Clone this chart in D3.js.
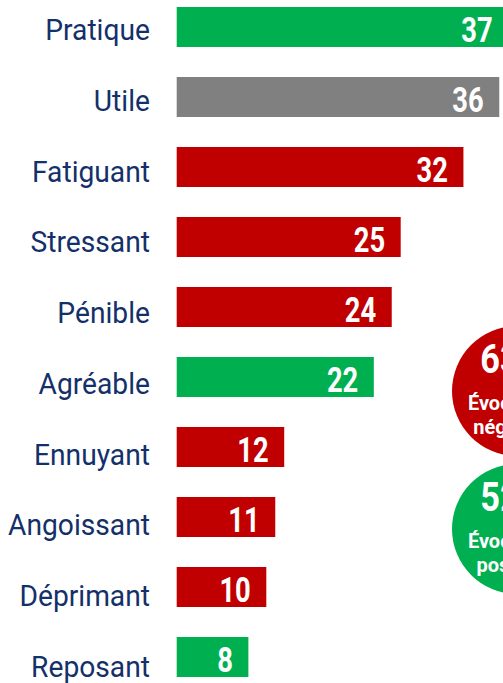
<!DOCTYPE html>
<html><head><meta charset="utf-8">
<script src="https://cdn.jsdelivr.net/npm/d3@7"></script>
<style>html,body{margin:0;padding:0;background:#fff;overflow:hidden}</style>
</head><body><svg id="c" width="503" height="683"></svg>
<script>
const categories = ["Pratique","Utile","Fatiguant","Stressant","Pénible","Agréable","Ennuyant","Angoissant","Déprimant","Reposant"];
const values = [37,36,32,25,24,22,12,11,10,8];
const tones = ["pos","neu","neg","neg","neg","pos","neg","neg","neg","pos"];
const summaryValues = ["63 %","52 %"];
const summaryLine1 = ["Évocations","Évocations"];
const summaryLine2 = ["négatives","positives"];
const summaryTones = ["neg","pos"];
const colors = {pos:"#00B050", neg:"#C00000", neu:"#808080"};

const svg = d3.select("#c");
const x = d3.scaleLinear().domain([0,40]).range([176.7, 176.7+40*8.96]);
const y = d3.scaleBand().domain(categories).range([-8, 692]).paddingInner(3/7).paddingOuter(3/14);
const yLabel = d3.scalePoint().domain(categories).range([40, 677]);
const data = categories.map((c,i)=>({c, v:values[i], t:tones[i]}));

svg.selectAll("rect.bar").data(data).join("rect").attr("class","bar")
  .attr("x", x(0)).attr("y", d=>y(d.c))
  .attr("width", d=>x(d.v)-x(0)).attr("height", y.bandwidth())
  .attr("fill", d=>colors[d.t]);

svg.selectAll("g.lab").data(data).join("g").attr("class","lab")
  .attr("transform", d=>`translate(150,${yLabel(d.c)})`)
  .append("text").attr("text-anchor","end").attr("transform","scale(0.94,1)")
  .attr("font-family","Roboto").attr("font-size",30).attr("fill","#14306a")
  .text(d=>d.c);

svg.selectAll("g.val").data(data).join("g").attr("class","val")
  .attr("transform", d=>`translate(${x(d.v)-15.5},${y(d.c)+y.bandwidth()/2+14.5})`)
  .append("text").attr("text-anchor","end").attr("transform","scale(0.76,1)")
  .attr("font-family","Roboto").attr("font-weight","bold").attr("font-size",36).attr("fill","#fff")
  .text(d=>d.v);

const cy = d3.scalePoint().domain([0,1]).range([391,529]);
const cx = 517, r = 65;
const sdata = summaryValues.map((v,i)=>({i, v, l1:summaryLine1[i], l2:summaryLine2[i], t:summaryTones[i]}));
const sg = svg.selectAll("g.sum").data(sdata).join("g").attr("class","sum")
  .attr("transform", d=>`translate(${cx},${cy(d.i)})`);
sg.append("circle").attr("r", r).attr("fill", d=>colors[d.t]);
sg.append("text").attr("text-anchor","middle").attr("y",-18).attr("transform","scale(0.86,1)")
  .attr("font-family","Roboto").attr("font-weight","bold").attr("font-size",40).attr("fill","#fff")
  .text(d=>d.v);
sg.append("text").attr("text-anchor","middle").attr("y",19)
  .attr("font-family","Roboto").attr("font-weight","bold").attr("font-size",20).attr("fill","#fff")
  .text(d=>d.l1);
sg.append("text").attr("text-anchor","middle").attr("y",43)
  .attr("font-family","Roboto").attr("font-weight","bold").attr("font-size",20).attr("fill","#fff")
  .text(d=>d.l2);
</script></body></html>
